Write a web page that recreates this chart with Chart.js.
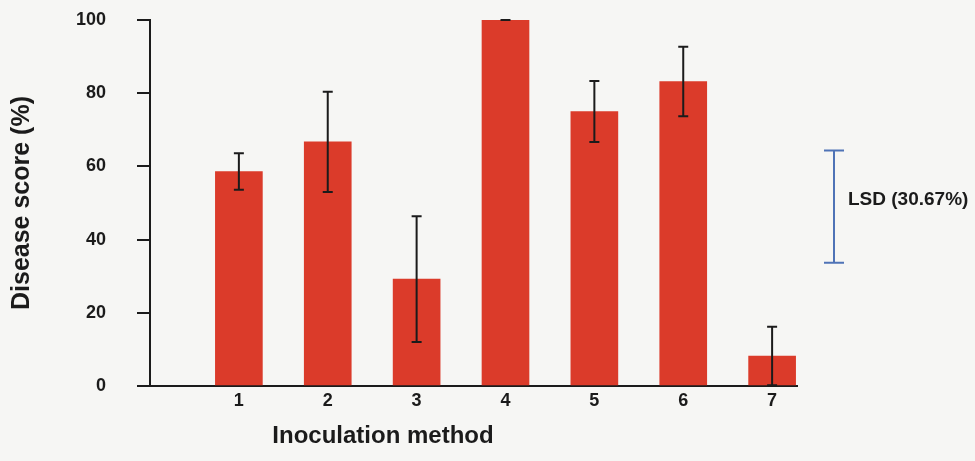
<!DOCTYPE html>
<html>
<head>
<meta charset="utf-8">
<script src="https://cdn.jsdelivr.net/npm/chart.js@4.4.0/dist/chart.umd.min.js"></script>
<style>
  html, body { margin: 0; padding: 0; background: #f6f6f4; }
  #wrap { width: 975px; height: 461px; }
</style>
</head>
<body>
<div id="wrap"><canvas id="c" width="975" height="461"></canvas></div>
<script>
// Inoculation methods and their mean disease scores (%)
const categories = ['1', '2', '3', '4', '5', '6', '7'];
const scores = [58.6, 66.7, 29.2, 100, 75.0, 83.2, 8.2];
const errors = [5.0, 13.7, 17.2, 0, 8.3, 9.5, 8.0];
const yTicks = [0, 20, 40, 60, 80, 100];
// Least significant difference, drawn as a bracket centred on lsdCenter
const lsdValue = 30.67;
const lsdCenter = 49;
const lsdLabel = 'LSD (30.67%)';
const xTitle = 'Inoculation method';
const yTitle = 'Disease score (%)';

const INK = '#1b1b1b';
const FONT = '"Liberation Sans", Arial, Helvetica, sans-serif';

const points = categories.map((c, i) => ({ x: i + 1, y: scores[i] }));

// Error bars on each bar, the LSD bracket right of the plot, and the x-axis title
const errorBars = {
  id: 'errorBars',
  afterDatasetsDraw(chart) {
    const ctx = chart.ctx;
    const y = chart.scales.y;
    const meta = chart.getDatasetMeta(0);
    ctx.save();
    ctx.strokeStyle = INK;
    ctx.lineWidth = 2;
    meta.data.forEach((bar, i) => {
      const top = y.getPixelForValue(scores[i] + errors[i]);
      const bot = y.getPixelForValue(Math.max(0, scores[i] - errors[i]));
      const cap = 5;
      ctx.beginPath();
      ctx.moveTo(bar.x, top); ctx.lineTo(bar.x, bot);
      ctx.moveTo(bar.x - cap, top); ctx.lineTo(bar.x + cap, top);
      ctx.moveTo(bar.x - cap, bot); ctx.lineTo(bar.x + cap, bot);
      ctx.stroke();
    });

    // LSD bracket
    const area = chart.chartArea;
    const lx = area.right + 37;
    const lTop = y.getPixelForValue(lsdCenter + lsdValue / 2);
    const lBot = y.getPixelForValue(lsdCenter - lsdValue / 2);
    ctx.strokeStyle = '#4f73b6';
    ctx.lineWidth = 2;
    ctx.beginPath();
    ctx.moveTo(lx, lTop); ctx.lineTo(lx, lBot);
    ctx.moveTo(lx - 10, lTop); ctx.lineTo(lx + 10, lTop);
    ctx.moveTo(lx - 10, lBot); ctx.lineTo(lx + 10, lBot);
    ctx.stroke();
    ctx.fillStyle = INK;
    ctx.font = 'bold 19px ' + FONT;
    ctx.textAlign = 'left';
    ctx.textBaseline = 'middle';
    ctx.fillText(lsdLabel, lx + 14, y.getPixelForValue(lsdCenter) - 7);

    // x-axis title, set left of the plot centre
    ctx.font = 'bold 24px ' + FONT;
    ctx.textAlign = 'center';
    ctx.textBaseline = 'middle';
    ctx.fillText(xTitle, area.left + 233, area.bottom + 50);
    ctx.restore();
  }
};

new Chart(document.getElementById('c'), {
  type: 'bar',
  data: {
    datasets: [{
      data: points,
      backgroundColor: '#db3b2a',
      borderWidth: 0,
      barThickness: 47
    }]
  },
  options: {
    responsive: false,
    animation: false,
    devicePixelRatio: 1,
    layout: { padding: { left: 0, right: 178, top: 20, bottom: 0 } },
    plugins: { legend: { display: false }, tooltip: { enabled: false } },
    scales: {
      x: {
        type: 'linear',
        offset: false,
        min: 0,
        max: 7.28,
        afterBuildTicks(axis) {
          axis.ticks = categories.map((c, i) => ({ value: i + 1 }));
        },
        afterFit(axis) {
          axis.height = 75;
          axis.paddingTop = 0;
          axis.paddingBottom = 0;
        },
        grid: { display: false, drawTicks: false },
        border: { display: true, color: INK, width: 2 },
        ticks: {
          padding: 4,
          color: INK,
          font: { family: FONT, size: 18, weight: 'bold' },
          callback: (v) => categories[v - 1] ?? ''
        },
        title: { display: false }
      },
      y: {
        min: 0,
        max: 100,
        afterBuildTicks(axis) {
          axis.ticks = yTicks.map(v => ({ value: v }));
        },
        afterFit(axis) {
          axis.width = 150;
          axis.paddingTop = 0;
          axis.paddingBottom = 0;
        },
        grid: {
          display: true,
          drawOnChartArea: false,
          drawTicks: true,
          tickLength: 13,
          color: INK,
          lineWidth: 2
        },
        border: { display: true, color: INK, width: 2 },
        ticks: {
          padding: 31,
          color: INK,
          font: { family: FONT, size: 18, weight: 'bold' }
        },
        title: {
          display: true,
          text: yTitle,
          color: INK,
          font: { family: FONT, size: 25, weight: 'bold' },
          padding: { top: 7, bottom: 0 }
        }
      }
    }
  },
  plugins: [errorBars]
});
</script>
</body>
</html>
